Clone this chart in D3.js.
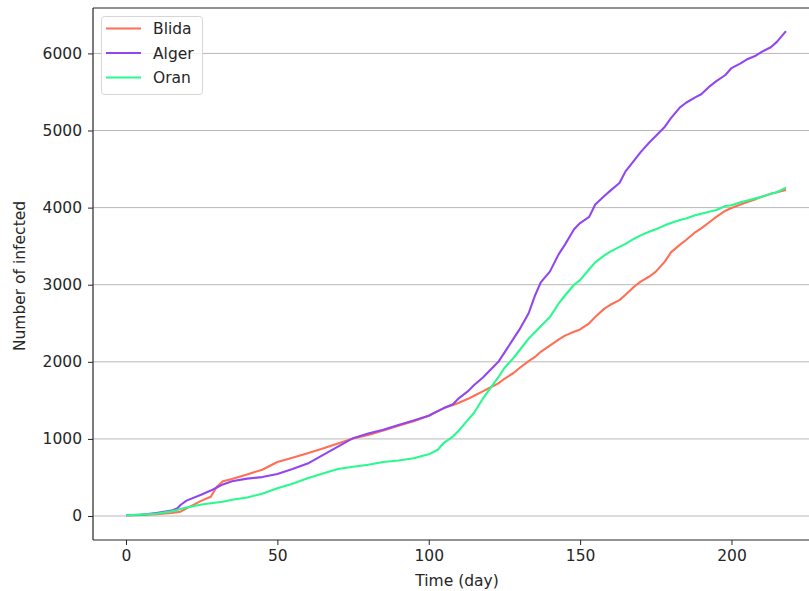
<!DOCTYPE html>
<html><head><meta charset="utf-8">
<script src="https://cdn.jsdelivr.net/npm/d3@7"></script>
<style>
body{margin:0;background:#fff;}
svg{display:block;font-family:"DejaVu Sans",sans-serif;}
</style></head>
<body><svg id="c" width="809" height="591"></svg>
<script>
const days = [0,5,10,15,17,18,20,25,28,30,32,35,40,45,50,55,60,65,70,75,80,85,90,95,100,103,105,108,110,113,115,118,120,123,125,128,130,133,135,137,140,143,145,148,150,153,155,158,160,163,165,168,170,173,175,178,180,183,185,188,190,193,195,198,200,203,205,208,210,213,215,218];
const blida = [10,15,22,40,50,56,100,200,250,380,450,480,540,600,700,755,815,875,940,1005,1050,1110,1170,1230,1300,1360,1400,1440,1470,1520,1560,1620,1660,1720,1780,1855,1920,2010,2060,2130,2210,2290,2340,2390,2420,2500,2580,2690,2740,2800,2870,2980,3040,3110,3170,3300,3420,3520,3580,3680,3730,3820,3880,3960,3995,4040,4070,4110,4140,4180,4200,4230];
const alger = [10,15,40,70,100,143,200,280,330,370,410,450,485,505,545,610,680,790,900,1010,1070,1120,1180,1240,1300,1360,1400,1450,1530,1620,1700,1800,1880,2000,2120,2300,2420,2630,2850,3030,3170,3400,3520,3720,3800,3880,4040,4150,4220,4320,4470,4620,4720,4850,4930,5050,5160,5300,5360,5430,5470,5580,5640,5720,5810,5870,5920,5970,6020,6080,6150,6290];
const oran = [10,18,30,60,78,90,110,150,165,175,185,210,240,290,360,420,490,550,610,640,665,700,720,750,800,860,950,1030,1110,1250,1340,1530,1640,1800,1920,2050,2150,2300,2380,2460,2580,2760,2860,3000,3060,3200,3290,3380,3430,3490,3530,3600,3640,3690,3720,3770,3800,3840,3860,3900,3920,3950,3970,4020,4030,4070,4090,4120,4140,4180,4200,4260];
const seriesNames = ["Blida","Alger","Oran"];
const seriesValues = [blida, alger, oran];
const colors = ["#ff6f55","#9147f0","#2af98e"];
const xTicks = [0,50,100,150,200];
const yTicks = [0,1000,2000,3000,4000,5000,6000];

const FS = "15.5px";
const svg = d3.select("#c");
const L = 93, T = 8, B = 540, R = 822;
const x = d3.scaleLinear().domain([-10.9, 229.9]).range([L, R]);
const y = d3.scaleLinear().domain([-311, 6589]).range([B, T]);

svg.append("defs").append("clipPath").attr("id","clip")
  .append("rect").attr("x",L).attr("y",T).attr("width",809-L).attr("height",B-T);

svg.append("g").selectAll("line").data(yTicks).join("line")
  .attr("x1",L).attr("x2",809).attr("y1",d=>y(d)).attr("y2",d=>y(d))
  .attr("stroke","#b0b0b0").attr("stroke-width",0.9);

const line = d3.line().x((d,i)=>x(days[i])).y(d=>y(d));
const g = svg.append("g").attr("clip-path","url(#clip)");
seriesValues.forEach((vals,k)=>{
  g.append("path").attr("d",line(vals)).attr("fill","none")
   .attr("stroke",colors[k]).attr("stroke-width",2.1).attr("stroke-linejoin","round");
});

const xa = svg.append("g").attr("transform",`translate(0,${B})`)
  .call(d3.axisBottom(x).tickValues(xTicks).tickSize(5).tickPadding(5).tickFormat(d3.format("d")));
const ya = svg.append("g").attr("transform",`translate(${L},0)`)
  .call(d3.axisLeft(y).tickValues(yTicks).tickSize(5).tickPadding(6).tickFormat(d3.format("d")));
[xa,ya].forEach(a=>{
  a.select(".domain").remove();
  a.selectAll("text").attr("font-size",FS).attr("fill","#262626").attr("font-family","DejaVu Sans");
  a.selectAll(".tick line").attr("stroke","#262626").attr("stroke-width",1);
});
svg.append("line").attr("x1",L).attr("x2",809).attr("y1",B).attr("y2",B).attr("stroke","#262626").attr("stroke-width",1.2);
svg.append("line").attr("x1",L).attr("x2",809).attr("y1",T).attr("y2",T).attr("stroke","#262626").attr("stroke-width",1.2);
svg.append("line").attr("x1",L).attr("x2",L).attr("y1",T).attr("y2",B).attr("stroke","#262626").attr("stroke-width",1.2);

svg.append("text").attr("x",457).attr("y",586).attr("text-anchor","middle")
  .attr("font-size",FS).attr("fill","#262626").text("Time (day)");
svg.append("text").attr("transform","translate(25,276) rotate(-90)").attr("text-anchor","middle")
  .attr("font-size",FS).attr("fill","#262626").text("Number of infected");

const lg = svg.append("g");
lg.append("rect").attr("x",101.5).attr("y",16.5).attr("width",101).attr("height",78).attr("rx",3)
  .attr("fill","#fff").attr("fill-opacity",0.8).attr("stroke","#d6d6d6");
seriesNames.forEach((n,k)=>{
  const yy = 28.5 + k*24.5;
  lg.append("line").attr("x1",106).attr("x2",141).attr("y1",yy).attr("y2",yy)
    .attr("stroke",colors[k]).attr("stroke-width",2.2);
  lg.append("text").attr("x",153).attr("y",yy+5.5).attr("font-size",FS).attr("fill","#262626").text(n);
});
</script></body></html>
